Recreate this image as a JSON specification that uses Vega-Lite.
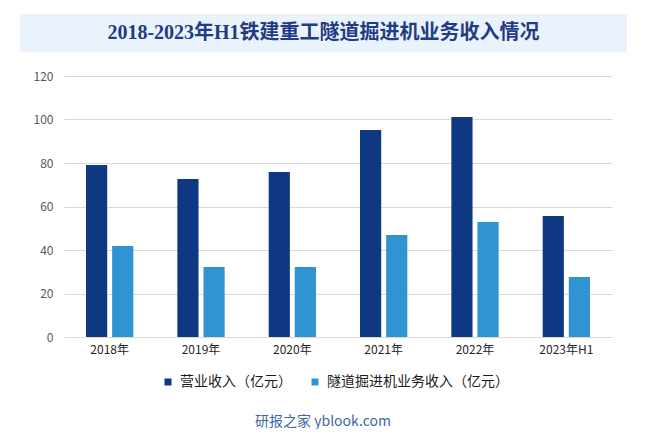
{
  "$schema": "https://vega.github.io/schema/vega-lite/v6.json",
  "padding": {"top": 14, "left": 20, "right": 0, "bottom": 0},
  "background": "#ffffff",
  "spacing": 24,
  "bounds": "flush",
  "config": {
    "view": {"stroke": null},
    "font": "Noto Sans CJK SC"
  },
  "vconcat": [
    {
      "width": 607,
      "height": 38,
      "view": {"fill": "#EAF2FC", "stroke": null},
      "data": {"values": [{"t": "2018-2023年H1铁建重工隧道掘进机业务收入情况"}]},
      "mark": {
        "type": "text",
        "font": "Liberation Serif, Noto Sans CJK SC",
        "fontSize": 20,
        "fontWeight": "bold",
        "color": "#1F3C84",
        "baseline": "middle",
        "align": "center"
      },
      "encoding": {"text": {"field": "t", "type": "nominal"}}
    },
    {
      "spacing": 12,
      "hconcat": [
        {
          "width": 1,
          "height": 1,
          "data": {"values": [{"t": ""}]},
          "mark": {"type": "text"},
          "encoding": {"text": {"field": "t", "type": "nominal"}}
        },
        {
          "width": 548,
          "height": 261,
          "title": {
            "text": "研报之家 yblook.com",
            "orient": "bottom",
            "anchor": "middle",
            "frame": "group",
            "dx": -15,
            "offset": 60,
            "font": "Noto Sans CJK SC",
            "fontSize": 14,
            "fontWeight": "normal",
            "color": "#3F67A3"
          },
          "data": {
            "values": [
              {"year": "2018年", "series": "营业收入（亿元）", "value": 79.1},
              {"year": "2018年", "series": "隧道掘进机业务收入（亿元）", "value": 41.8},
              {"year": "2019年", "series": "营业收入（亿元）", "value": 72.6},
              {"year": "2019年", "series": "隧道掘进机业务收入（亿元）", "value": 32.2},
              {"year": "2020年", "series": "营业收入（亿元）", "value": 75.9},
              {"year": "2020年", "series": "隧道掘进机业务收入（亿元）", "value": 32.2},
              {"year": "2021年", "series": "营业收入（亿元）", "value": 95.2},
              {"year": "2021年", "series": "隧道掘进机业务收入（亿元）", "value": 46.9},
              {"year": "2022年", "series": "营业收入（亿元）", "value": 101.1},
              {"year": "2022年", "series": "隧道掘进机业务收入（亿元）", "value": 52.9},
              {"year": "2023年H1", "series": "营业收入（亿元）", "value": 55.6},
              {"year": "2023年H1", "series": "隧道掘进机业务收入（亿元）", "value": 27.6}
            ]
          },
          "mark": {"type": "bar"},
          "encoding": {
            "x": {
              "field": "year",
              "type": "nominal",
              "sort": null,
              "scale": {"paddingInner": 0.482, "paddingOuter": 0.241},
              "axis": {
                "title": null,
                "labelAngle": 0,
                "domain": true,
                "domainColor": "#d9d9d9",
                "ticks": false,
                "labelFontSize": 12,
                "labelColor": "#262626",
                "labelPadding": 7
              }
            },
            "xOffset": {
              "field": "series",
              "type": "nominal",
              "sort": null,
              "scale": {"paddingInner": 0.188, "paddingOuter": 0}
            },
            "y": {
              "field": "value",
              "type": "quantitative",
              "scale": {"domain": [0, 120]},
              "axis": {
                "title": null,
                "values": [0, 20, 40, 60, 80, 100, 120],
                "domain": false,
                "ticks": false,
                "gridColor": "#d9d9d9",
                "labelColor": "#595959",
                "labelFontSize": 12,
                "labelPadding": 11
              }
            },
            "color": {
              "field": "series",
              "type": "nominal",
              "sort": null,
              "scale": {"range": ["#0E3882", "#3194D2"]},
              "legend": {
                "title": null,
                "orient": "none",
                "direction": "horizontal",
                "legendX": 141,
                "legendY": 361,
                "symbolType": "square",
                "symbolSize": 49,
                "symbolStrokeWidth": 0,
                "labelFontSize": 14,
                "labelColor": "#1a1a1a",
                "labelOffset": 5,
                "columnPadding": 16,
                "labelLimit": 300
              }
            }
          }
        }
      ]
    }
  ]
}
